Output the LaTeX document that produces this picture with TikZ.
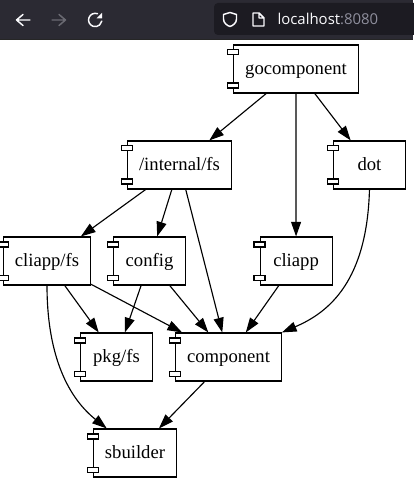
\documentclass[tikz,border=0pt]{standalone}
\usepackage{fontspec}
\setmainfont{Liberation Serif}
\newfontfamily\barfont{Open Sans}
\usetikzlibrary{arrows.meta}
\definecolor{barbg}{HTML}{2B2A33}
\definecolor{fieldbg}{HTML}{1C1B22}
\definecolor{iconfg}{HTML}{FBFBFE}
\definecolor{icondim}{HTML}{6A6A72}
\definecolor{hostdim}{HTML}{8F8F9D}

\begin{document}
\begin{tikzpicture}[x=0.75pt, y=-0.75pt, line width=0.85pt]
  \tikzstyle{comp} = [rectangle, draw, text centered, minimum width=54pt,
    minimum height=36pt, inner xsep=8.5pt, inner ysep=0pt, text height=10pt, text depth=1.4pt,
    font=\fontsize{14}{16}\selectfont]
  \tikzstyle{port} = [rectangle, draw, fill=white, minimum width=8.25pt,
    minimum height=3.75pt, inner sep=0pt]
  \tikzstyle{line} = [draw, -{Triangle[length=11pt,width=7.5pt]}]
  \tikzstyle{icon} = [draw=iconfg, line width=1.1pt, line cap=round, line join=round]

  \useasboundingbox (0,0) rectangle (413,491);

  % Browser bar
  \fill [barbg] (0,0) rectangle (413,39);
  \fill [black!85] (0,39) rectangle (413,40);
  \fill [fieldbg, rounded corners=3pt] (214,3) rectangle (430,35);
  \draw [icon] (30,20) -- (16.5,20) (23,14.5) -- (16.5,20) -- (23,25.5);
  \draw [icon, draw=icondim] (52,20) -- (65.5,20) (59,14.5) -- (65.5,20) -- (59,25.5);
  \draw [icon] (97.5,13.7) arc (70:350:5pt);
  \fill [iconfg] (102,13) -- (102,18.5) -- (96.5,18.5) -- cycle;
  \draw [icon] (230,12.5) -- (236.5,14.5) -- (236.5,19) .. controls (236.5,23) and (233,25.5) .. (230,26.5)
    .. controls (227,25.5) and (223.5,23) .. (223.5,19) -- (223.5,14.5) -- cycle;
  \draw [icon] (253,13) -- (259,13) -- (264,18) -- (264,26) -- (253,26) -- cycle (259,13) -- (259,18) -- (264,18);
  \node [anchor=base west, inner sep=0pt, text=iconfg, font=\barfont\fontsize{11.2}{13}\selectfont]
    (host) at (277,25) {localhost\textcolor{hostdim}{:8080}};

  % Place nodes
  \node [comp] (go) at (296,69) {gocomponent};
  \node [comp, below of=go, node distance=72pt, xshift=-87.4pt] (intfs) {/internal/fs};
  \node [comp, right of=intfs, node distance=142.5pt] (dot) {dot};
  \node [comp, below of=intfs, node distance=72pt, xshift=-99.35pt] (appfs) {cliapp/fs};
  \node [comp, right of=appfs, node distance=76.9pt] (config) {config};
  \node [comp, right of=config, node distance=109.9pt] (cliapp) {cliapp};
  \node [comp, below of=appfs, node distance=72pt, xshift=52.1pt] (pkgfs) {pkg/fs};
  \node [comp, right of=pkgfs, node distance=84.05pt] (component) {component};
  \node [comp, below of=pkgfs, node distance=72pt, xshift=13.9pt] (sbuilder) {sbuilder};

  % Place ports
  \foreach \n in {go,intfs,dot,appfs,config,cliapp,pkgfs,component,sbuilder} {
    \node [port, yshift=-6pt] (\n top) at (\n.north west) {};
    \node [port, yshift=6pt] (\n bot) at (\n.south west) {};
  }

  % Draw edges
  \path [line] (go) -- (intfs);
  \path [line] (go) -- (cliapp);
  \path [line] (go) -- (dot);

  \path [line] (intfs) -- (appfs);
  \path [line] (intfs) -- (config);
  \path [line] (intfs) -- (component);

  \path [line] (dot.south) .. controls (367,280) and (330,312) .. (component.north east);

  \path [line] (appfs) -- (pkgfs);
  \path [line] (appfs) -- (component);
  \path [line] (appfs.south) .. controls (47,350) and (65,395) .. (sbuilder.139);

  \path [line] (config) -- (pkgfs);
  \path [line] (config) -- (component);
  \path [line] (cliapp) -- (component);
  \path [line] (component) -- (sbuilder);

\end{tikzpicture}
\end{document}
